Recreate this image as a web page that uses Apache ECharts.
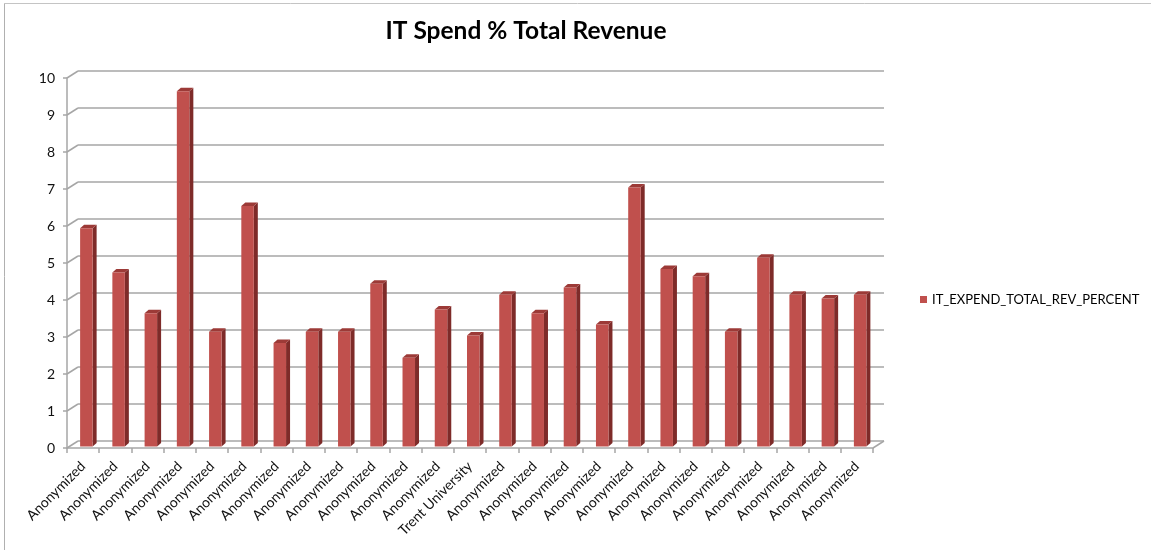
<!DOCTYPE html>
<html>
<head>
<meta charset="utf-8">
<script src="https://cdn.jsdelivr.net/npm/echarts@6/dist/echarts.min.js"></script>
<style>
html,body{margin:0;padding:0;background:#fff;}
#chart{width:1151px;height:550px;}
</style>
</head>
<body>
<div id="chart"></div>
<script>
const titleText = 'IT Spend % Total Revenue';
const seriesName = 'IT_EXPEND_TOTAL_REV_PERCENT';
const categories = [
  'Anonymized','Anonymized','Anonymized','Anonymized','Anonymized','Anonymized',
  'Anonymized','Anonymized','Anonymized','Anonymized','Anonymized','Anonymized',
  'Trent University',
  'Anonymized','Anonymized','Anonymized','Anonymized','Anonymized','Anonymized',
  'Anonymized','Anonymized','Anonymized','Anonymized','Anonymized','Anonymized'
];
const values = [5.9, 4.7, 3.6, 9.6, 3.1, 6.5, 2.8, 3.1, 3.1, 4.4, 2.4, 3.7, 3.0,
                4.1, 3.6, 4.3, 3.3, 7.0, 4.8, 4.6, 3.1, 5.1, 4.1, 4.0, 4.1];
const yTicks = [0, 1, 2, 3, 4, 5, 6, 7, 8, 9, 10];

const FONT = 'Lato';
const GRID_GRAY = '#a6a6a6';
const DEPTH_X = 11, DEPTH_Y = -7;

const chart = echarts.init(document.getElementById('chart'), null, {renderer: 'canvas'});

function renderBar(params, api) {
  const i = api.value(0), v = api.value(1);
  const base = api.coord([i, 0]);
  const top = api.coord([i, v]);
  const w = 12.5, dx = 4, dy = -3.5;
  const x0 = top[0] - 3, x1 = x0 + w;
  const yb = base[1] - 1.5, yt = top[1] - 1.5;
  return {
    type: 'group',
    children: [
      {type: 'polygon', shape: {points: [[x1, yt], [x1 + dx, yt + dy], [x1 + dx, yb + dy], [x1, yb]]},
        style: {fill: '#7e2b29'}},
      {type: 'polygon', shape: {points: [[x0, yt], [x0 + dx, yt + dy], [x1 + dx, yt + dy], [x1, yt]]},
        style: {fill: '#9c3a37'}},
      {type: 'rect', shape: {x: x0, y: yt, width: w, height: yb - yt},
        style: {fill: '#c0504d'}}
    ]
  };
}

function renderConnector(params, api) {
  const v = api.value(0);
  const p = api.coord([0, v]);
  const x = params.coordSys.x;
  const children = [
    {type: 'line', shape: {x1: x, y1: p[1], x2: x + DEPTH_X, y2: p[1] + DEPTH_Y},
      style: {stroke: GRID_GRAY, lineWidth: 1.5}}
  ];
  if (v === yTicks[0]) {
    const xr = params.coordSys.x + params.coordSys.width;
    children.push({type: 'line', shape: {x1: xr, y1: p[1], x2: xr + DEPTH_X, y2: p[1] + DEPTH_Y},
      style: {stroke: GRID_GRAY, lineWidth: 1.5}});
  }
  return {type: 'group', children: children};
}

const option = {
  animation: false,
  color: ['#c0504d'],
  title: {
    text: titleText,
    left: 526,
    textAlign: 'center',
    top: 19,
    padding: 0,
    textStyle: {fontFamily: FONT, fontSize: 24.5, fontWeight: 'bold', color: '#000'}
  },
  legend: {
    data: [{name: seriesName, icon: 'rect'}],
    left: 920,
    top: 293,
    itemWidth: 7,
    itemHeight: 7,
    padding: 0,
    textStyle: {fontFamily: FONT, fontSize: 13, color: '#000'}
  },
  graphic: [
    {type: 'line', shape: {x1: 4.5, y1: 3, x2: 4.5, y2: 550}, style: {stroke: '#b0b0b0', lineWidth: 1}},
    {type: 'line', shape: {x1: 4, y1: 3.5, x2: 1151, y2: 3.5}, style: {stroke: '#c4c4c4', lineWidth: 1}}
  ],
  grid: [
    {left: 67, right: 278, top: 78, bottom: 102},
    {left: 67 + DEPTH_X, right: 278 - DEPTH_X, top: 78 + DEPTH_Y, bottom: 102 - DEPTH_Y}
  ],
  xAxis: [
    {
      type: 'category', gridIndex: 0, data: categories, boundaryGap: true,
      axisLine: {show: true, lineStyle: {color: GRID_GRAY, width: 1.5}},
      axisTick: {show: true, length: 5, interval: 0, lineStyle: {color: GRID_GRAY, width: 1.5}},
      axisLabel: {interval: 0, rotate: 45, margin: 16, fontFamily: FONT, fontSize: 14, color: '#111'},
      splitLine: {show: false}
    },
    {
      type: 'category', gridIndex: 1, data: categories, show: false
    }
  ],
  yAxis: [
    {
      type: 'value', gridIndex: 0, min: 0, max: 10, interval: 1,
      axisLine: {show: true, lineStyle: {color: GRID_GRAY, width: 1.5}},
      axisTick: {show: true, length: 4, lineStyle: {color: GRID_GRAY, width: 1.5}},
      axisLabel: {margin: 12, fontFamily: FONT, fontSize: 14, color: '#111'},
      splitLine: {show: false}
    },
    {
      type: 'value', gridIndex: 1, min: 0, max: 10, interval: 1,
      axisLine: {show: false}, axisTick: {show: false}, axisLabel: {show: false},
      splitLine: {show: true, lineStyle: {color: GRID_GRAY, width: 1.5}}
    }
  ],
  series: [
    {
      type: 'custom', name: 'connectors', xAxisIndex: 0, yAxisIndex: 0,
      renderItem: renderConnector, data: yTicks.map(v => [v]), silent: true, z: 1,
      encode: {y: 0}
    },
    {
      type: 'custom', name: seriesName, xAxisIndex: 0, yAxisIndex: 0,
      renderItem: renderBar, data: values.map((v, i) => [i, v]),
      itemStyle: {color: '#c0504d'}, z: 3,
      encode: {x: 0, y: 1}
    }
  ]
};
chart.setOption(option);
</script>
</body>
</html>
